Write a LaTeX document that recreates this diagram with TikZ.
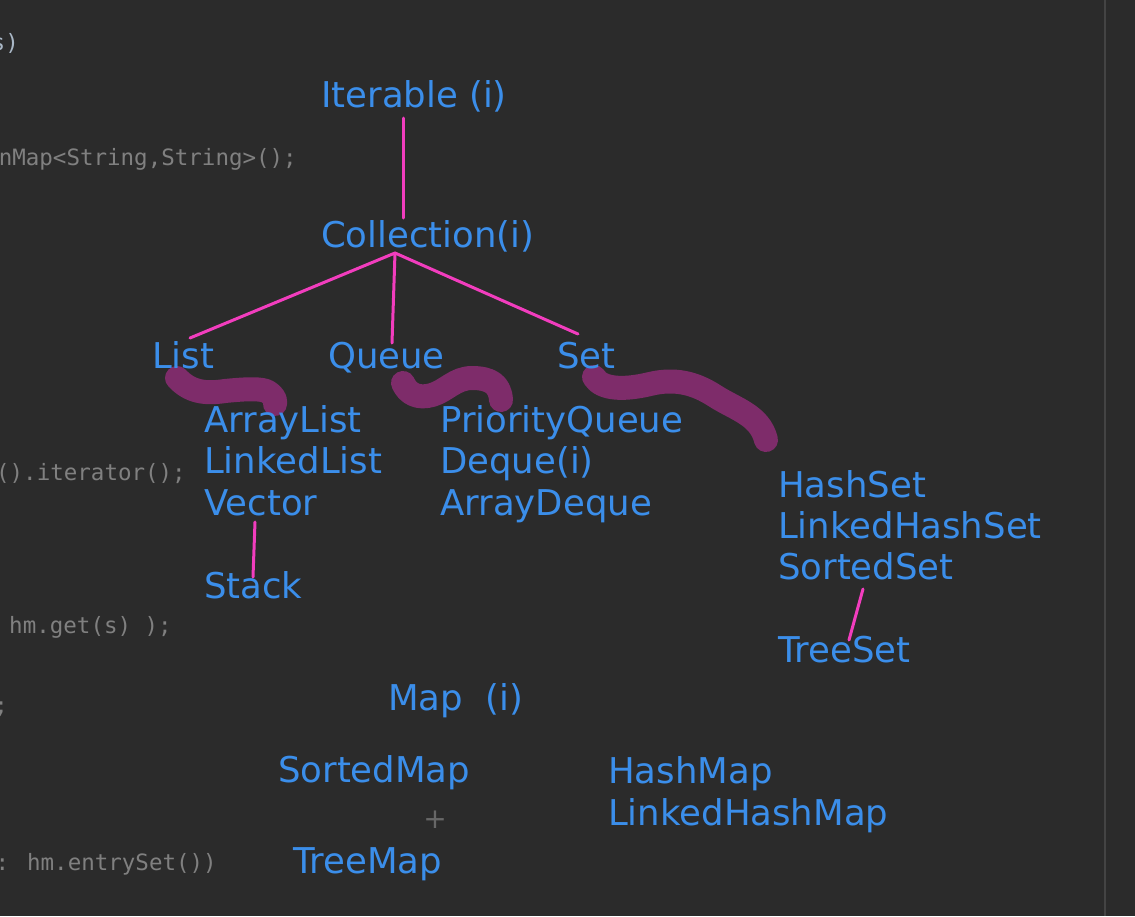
\documentclass[tikz,border=0pt]{standalone}
\usepackage{fontspec}
\setmainfont{DejaVu Sans}
\newfontfamily\codefont{DejaVu Sans Mono}
\newfontfamily\lblfont{DejaVu Sans}
\definecolor{bg}{HTML}{2B2B2B}
\definecolor{lbl}{HTML}{3B8EEA}
\definecolor{conn}{HTML}{F23DBE}
\definecolor{scrib}{HTML}{7E2C6A}
\definecolor{code}{HTML}{808080}
\definecolor{codelight}{HTML}{A9B7C6}
\definecolor{sep}{HTML}{444444}
\tikzset{
  lab/.style={anchor=base west, inner sep=0pt, text=lbl, font=\lblfont\fontsize{35.5}{35.5}\selectfont},
  codetxt/.style={anchor=base east, inner sep=0pt, text=code, font=\codefont\fontsize{22.5}{22.5}\selectfont},
  link/.style={draw=conn, line width=3pt, line cap=round},
  scribble/.style={draw=scrib, line width=24pt, line cap=round, line join=round},
}
\begin{document}
\begin{tikzpicture}[x=1pt,y=-1pt]
\useasboundingbox (0,0) rectangle (1135,916);
\fill[bg] (0,0) rectangle (1135,916);
\begin{scope}
\clip (0,0) rectangle (1135,916);
% editor margin line
\draw[sep, line width=2pt] (1105,0) -- (1105,916);
% code fragments
\node[codetxt, text=codelight] (c1) at (19,50) {s)};
\node[codetxt] (c2) at (297,165) {nMap<String,String>();};
\node[codetxt] (c3) at (186,480) {().iterator();};
\node[codetxt] (c4) at (172,633) {hm.get(s) );};
\node[codetxt] (c5) at (8,713) {;};
\node[codetxt] (c6) at (217,870) {: hm.entrySet())};
\end{scope}
% scribbles
\draw[scribble] (177,378) .. controls (190,392) and (205,394) .. (225,391) .. controls (245,389) and (262,388) .. (268,392) .. controls (274,396) and (276,400) .. (275,404);
\draw[scribble] (403,383) .. controls (408,394) and (418,399) .. (432,395) .. controls (446,391) and (455,378) .. (472,378) .. controls (490,378) and (500,384) .. (501,400);
\draw[scribble] (594,377) .. controls (602,390) and (625,390) .. (650,384) .. controls (675,378) and (695,383) .. (715,396) .. controls (735,409) and (760,415) .. (766,440);
% labels
\node[lab] (it) at (321,107) {Iterable (i)};
\node[lab] (col) at (321,247) {Collection(i)};
\node[lab] (list) at (152,368) {List};
\node[lab] (queue) at (328,368) {Queue};
\node[lab] (set) at (557,368) {Set};
\node[lab] (al) at (204,432) {ArrayList};
\node[lab] (ll) at (204,473) {LinkedList};
\node[lab] (vec) at (204,515) {Vector};
\node[lab] (stack) at (204,598) {Stack};
\node[lab] (pq) at (440,432) {PriorityQueue};
\node[lab] (dq) at (440,473) {Deque(i)};
\node[lab] (ad) at (440,515) {ArrayDeque};
\node[lab] (hs) at (778,497) {HashSet};
\node[lab] (lhs) at (778,538) {LinkedHashSet};
\node[lab] (ss) at (778,579) {SortedSet};
\node[lab] (ts) at (778,662) {TreeSet};
\node[lab] (map) at (388,710) {Map\ \ (i)};
\node[lab] (sm) at (278,782) {SortedMap};
\node[lab] (tm) at (293,873) {TreeMap};
\node[lab] (hm) at (608,783) {HashMap};
\node[lab] (lhm) at (608,825) {LinkedHashMap};
% cursor
\node[inner sep=0pt, text=code!120, font=\lblfont\fontsize{28}{28}\selectfont] (cur) at (435,820) {+};
% connectors
\draw[link] ([shift={(82,11)}]it.base west) -- ([shift={(82,-29)}]col.base west);
\draw[link] ([shift={(74,6)}]col.base west) -- ([shift={(38,-30)}]list.base west);
\draw[link] ([shift={(74,6)}]col.base west) -- ([shift={(64,-25)}]queue.base west);
\draw[link] ([shift={(74,6)}]col.base west) -- ([shift={(21,-34)}]set.base west);
\draw[link] ([shift={(51,7)}]vec.base west) -- ([shift={(49,-21)}]stack.base west);
\draw[link] ([shift={(85,10)}]ss.base west) -- ([shift={(71,-22)}]ts.base west);
\end{tikzpicture}
\end{document}
